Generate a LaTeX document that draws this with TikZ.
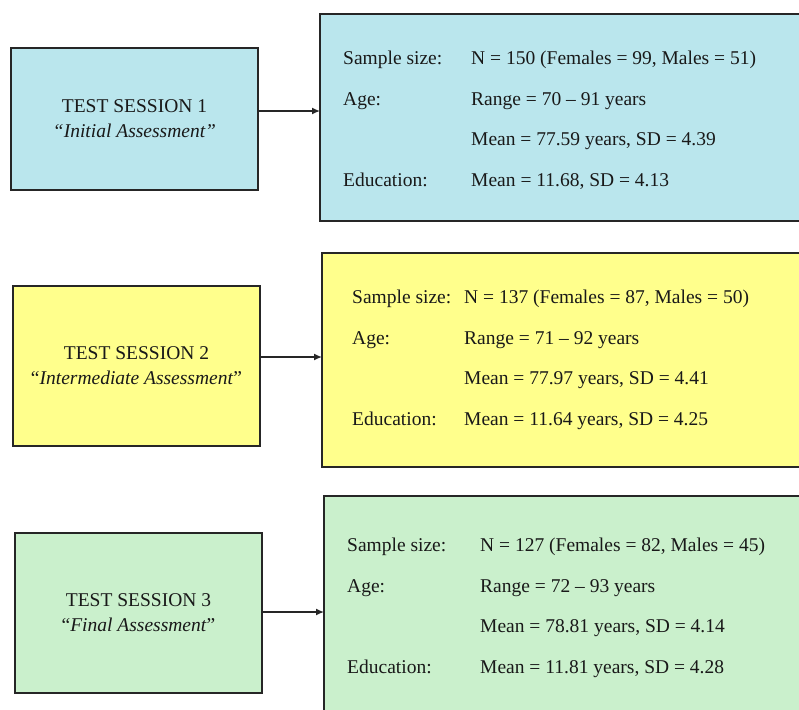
\documentclass[tikz,border=0pt]{standalone}
\usepackage{fontspec}
\setmainfont{Liberation Serif}
\usetikzlibrary{arrows.meta,positioning}
\definecolor{sessblue}{RGB}{186,230,237}
\definecolor{sessyellow}{RGB}{255,255,140}
\definecolor{sessgreen}{RGB}{202,240,204}

\begin{document}
\begin{tikzpicture}[x=1pt,y=-1pt,>={Latex[length=8pt,width=7pt]},
  session/.style={draw=black!85,line width=1.5pt,minimum width=247pt,minimum height=142pt,
    inner sep=0pt,outer sep=0pt,align=center,text=black!90,font=\fontsize{19.5}{25}\selectfont},
  stats/.style={draw=black!85,line width=1.5pt,anchor=north west,minimum width=490pt,
    minimum height=207pt,inner sep=0pt,outer sep=0pt},
  rows/.style={anchor=base west,inner sep=0pt,text=black!90,font=\fontsize{19.5}{40.5}\selectfont}]
  \begin{scope}
  \clip (0,0) rectangle (799,709);
  % session 1
  \node[session,fill=sessblue,minimum height=142pt] (s1) at (134.5,119) {TEST SESSION 1\\\textit{``Initial Assessment''}};
  \node[stats,fill=sessblue] (st1) at (320,14) {};
  \node[rows] (st1-text) at (343,64.5) {\begin{tabular}[t]{@{}p{128pt}@{}l@{}}
    Sample size: & N = 150 (Females = 99, Males = 51)\\
    Age: & Range = 70 -- 91 years\\
         & Mean = 77.59 years, SD = 4.39\\
    Education: & Mean = 11.68, SD = 4.13
  \end{tabular}};
  % session 2
  \node[session,fill=sessyellow,minimum height=160pt] (s2) at (136.5,366) {TEST SESSION 2\\``\textit{Intermediate Assessment}''};
  \node[stats,fill=sessyellow,minimum height=214pt] (st2) at (322,253) {};
  \node[rows] (st2-text) at (352,303.5) {\begin{tabular}[t]{@{}p{112pt}@{}l@{}}
    Sample size: & N = 137 (Females = 87, Males = 50)\\
    Age: & Range = 71 -- 92 years\\
         & Mean = 77.97 years, SD = 4.41\\
    Education: & Mean = 11.64 years, SD = 4.25
  \end{tabular}};
  % session 3
  \node[session,fill=sessgreen,minimum height=160pt] (s3) at (138.5,613) {TEST SESSION 3\\``\textit{Final Assessment}''};
  \node[stats,fill=sessgreen,minimum height=230pt] (st3) at (324,496) {};
  \node[rows] (st3-text) at (347,551.5) {\begin{tabular}[t]{@{}p{133pt}@{}l@{}}
    Sample size: & N = 127 (Females = 82, Males = 45)\\
    Age: & Range = 72 -- 93 years\\
         & Mean = 78.81 years, SD = 4.14\\
    Education: & Mean = 11.81 years, SD = 4.28
  \end{tabular}};
  \draw[->,line width=1.4pt,black!85] ([yshift=8pt]s1.east) -- ([yshift=8pt]s1.east -| st1.west);
  \draw[->,line width=1.4pt,black!85] ([yshift=9pt]s2.east) -- ([yshift=9pt]s2.east -| st2.west);
  \draw[->,line width=1.4pt,black!85] ([yshift=1pt]s3.east) -- ([yshift=1pt]s3.east -| st3.west);
  \end{scope}
  \pgfresetboundingbox
  \path[use as bounding box] (0,0) rectangle (799,709);
\end{tikzpicture}
\end{document}
